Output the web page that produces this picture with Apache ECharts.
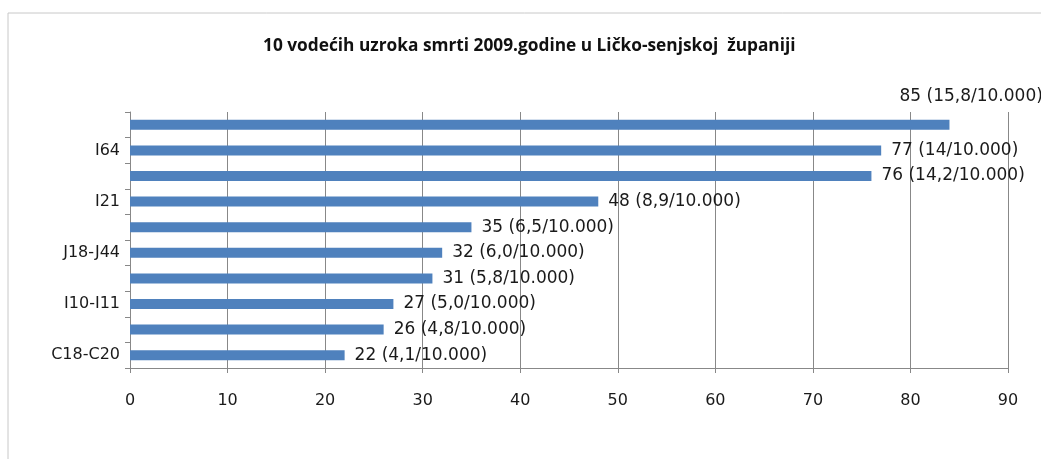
<!DOCTYPE html>
<html>
<head>
<meta charset="utf-8">
<script src="https://cdn.jsdelivr.net/npm/echarts@6/dist/echarts.min.js"></script>
<style>
  html, body { margin: 0; padding: 0; background: #fff; }
  #chart { width: 1041px; height: 459px; }
</style>
</head>
<body>
<div id="chart"></div>
<script>
// kategorije odozdo prema gore (prazne oznake nisu vidljive na slici)
var categories = ['C18-C20', '', 'I10-I11', '', 'J18-J44', '', 'I21', '', 'I64', ''];
var values = [22, 26, 27, 31, 32, 35, 48, 76, 77, 84];
var barLabels = [
  '22 (4,1/10.000)', '26 (4,8/10.000)', '27 (5,0/10.000)', '31 (5,8/10.000)',
  '32 (6,0/10.000)', '35 (6,5/10.000)', '48 (8,9/10.000)', '76 (14,2/10.000)',
  '77 (14/10.000)', '85 (15,8/10.000)'
];
var xTicks = [0, 10, 20, 30, 40, 50, 60, 70, 80, 90];

var font = '"DejaVu Sans", sans-serif';

var data = values.map(function (v, i) {
  var item = { value: v };
  if (i === values.length - 1) {
    item.label = { offset: [-60, -28] };
  }
  return item;
});

var chart = echarts.init(document.getElementById('chart'));
chart.setOption({
  backgroundColor: '#fff',
  animation: false,
  title: {
    text: '10 vodećih uzroka smrti 2009.godine u Ličko-senjskoj  županiji',
    left: 258,
    top: 33,
    textStyle: { fontFamily: '"Open Sans", sans-serif', fontSize: 17.3, fontWeight: 'bold', color: '#111' }
  },
  graphic: [
    { type: 'line', shape: { x1: 8, y1: 13, x2: 1041, y2: 13 }, style: { stroke: '#c8c8c8', lineWidth: 1 } },
    { type: 'line', shape: { x1: 8, y1: 13, x2: 8, y2: 459 }, style: { stroke: '#c8c8c8', lineWidth: 1 } }
  ],
  grid: { left: 130, right: 33, top: 112, bottom: 91 },
  xAxis: {
    type: 'value',
    min: xTicks[0],
    max: xTicks[xTicks.length - 1],
    interval: 10,
    axisLine: { show: true, lineStyle: { color: '#888' } },
    axisTick: { show: true, length: 5, lineStyle: { color: '#888' } },
    axisLabel: { fontFamily: font, fontSize: 16, color: '#1a1a1a', margin: 25 },
    splitLine: { show: true, lineStyle: { color: '#888', width: 1 } }
  },
  yAxis: {
    type: 'category',
    data: categories,
    axisLine: { show: true, lineStyle: { color: '#888' } },
    axisTick: { show: true, length: 5, interval: 0, lineStyle: { color: '#888' } },
    axisLabel: { interval: 0, fontFamily: font, fontSize: 16, color: '#1a1a1a', margin: 10 }
  },
  series: [{
    type: 'bar',
    data: data,
    barWidth: 10,
    itemStyle: { color: '#4F81BD' },
    label: {
      show: true,
      position: 'right',
      distance: 10,
      fontFamily: font,
      fontSize: 17,
      color: '#1a1a1a',
      formatter: function (p) { return barLabels[p.dataIndex]; }
    }
  }]
});
</script>
</body>
</html>
